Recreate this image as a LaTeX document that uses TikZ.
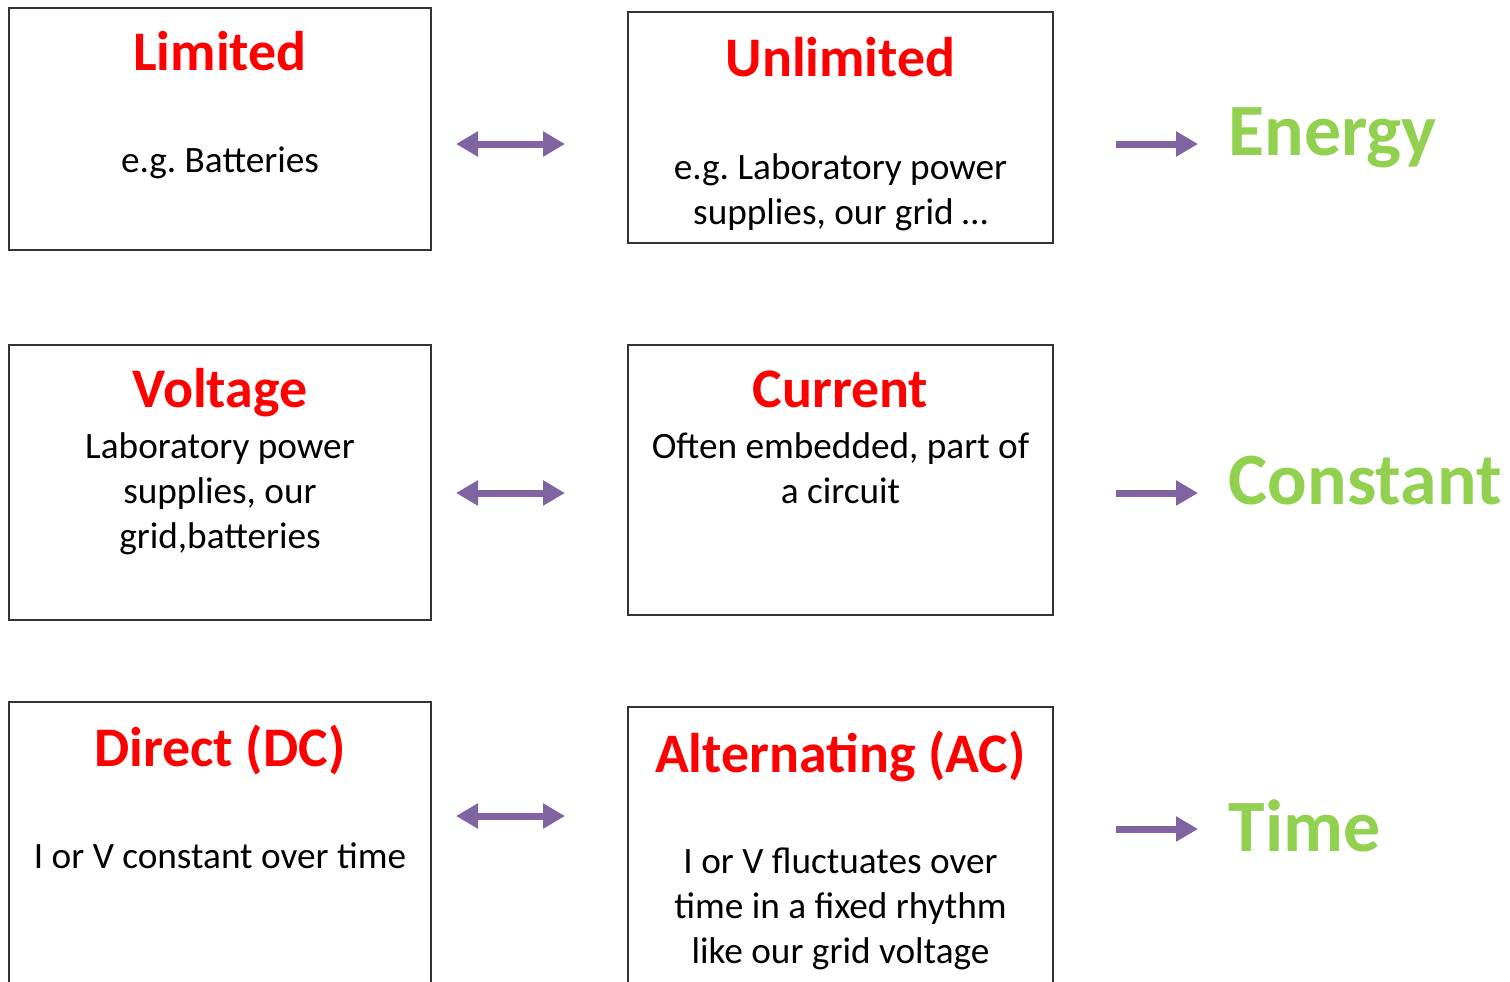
\documentclass[tikz,border=0pt]{standalone}
\usepackage{fontspec}
\setmainfont{Carlito}
\usetikzlibrary{arrows.meta,positioning}
\frenchspacing

\definecolor{arrowpurple}{HTML}{8064A2}
\definecolor{termgreen}{HTML}{92D050}

\begin{document}
\begin{tikzpicture}[
  kindbox/.style={draw=black!80,line width=0.6pt,minimum width=4.22cm,inner sep=0pt},
  kindtitle/.style={anchor=base,text=red,font=\fontsize{15.9}{19}\selectfont\bfseries,inner sep=0pt},
  kindtext/.style={anchor=base,align=center,font=\fontsize{10.6}{12.8}\selectfont,inner sep=0pt},
  quantity/.style={anchor=base west,text=termgreen,font=\fontsize{21}{25}\selectfont\bfseries,inner sep=0pt},
  pairarrow/.style={{Triangle[length=0.22cm,width=0.24cm]}-{Triangle[length=0.22cm,width=0.24cm]},arrowpurple,line width=0.07cm},
  leadarrow/.style={-{Triangle[length=0.22cm,width=0.24cm]},arrowpurple,line width=0.07cm,shorten >=0.30cm}
]
\clip (0,0) rectangle (15.10,-9.81);
\useasboundingbox (0,0) rectangle (15.10,-9.81);

% row 1: energy
\node[kindbox,minimum height=2.42cm] (lim) at (2.20,-1.29) {};
\node[kindtitle] (limt) at ([yshift=-0.64cm]lim.north) {Limited};
\node[kindtext] (limx) at ([yshift=-1.66cm]lim.north) {e.g. Batteries};
\node[kindbox,minimum width=4.25cm,minimum height=2.31cm] (unl) at (8.405,-1.275) {};
\node[kindtitle] (unlt) at ([yshift=-0.66cm]unl.north) {Unlimited};
\node[kindtext] (unlx) at ([yshift=-2.14cm]unl.north) {e.g. Laboratory power\\supplies, our grid \dots};
\coordinate (e1) at (4.56,-1.44);
\coordinate (e2) at (5.65,-1.44);
\draw[pairarrow] (e1) -- (e2);
\node[quantity] (energy) at (12.28,-1.55) {Energy};
\coordinate (e3) at (11.16,-1.44);
\draw[leadarrow] (e3) -- (e3 -| energy.west);

% row 2: constant
\node[kindbox,minimum height=2.75cm] (vol) at (2.20,-4.825) {};
\node[kindtitle] (volt) at ([yshift=-0.64cm]vol.north) {Voltage};
\node[kindtext] (volx) at ([yshift=-2.05cm]vol.north) {Laboratory power\\supplies, our\\grid,batteries};
\node[kindbox,minimum width=4.25cm,minimum height=2.70cm] (cur) at (8.405,-4.80) {};
\node[kindtitle] (curt) at ([yshift=-0.64cm]cur.north) {Current};
\node[kindtext] (curx) at ([yshift=-1.60cm]cur.north) {Often embedded, part of\\a circuit};
\coordinate (c1) at (4.56,-4.93);
\coordinate (c2) at (5.65,-4.93);
\draw[pairarrow] (c1) -- (c2);
\node[quantity] (constant) at (12.28,-5.04) {Constant};
\coordinate (c3) at (11.16,-4.93);
\draw[leadarrow] (c3) -- (c3 -| constant.west);

% row 3: time
\node[kindbox,minimum height=3.18cm] (dir) at (2.20,-8.61) {};
\node[kindtitle] (dirt) at ([yshift=-0.66cm]dir.north) {Direct (DC)};
\node[kindtext] (dirx) at ([yshift=-1.68cm]dir.north) {I or V constant over time};
\node[kindbox,minimum width=4.25cm,minimum height=3.13cm] (alt) at (8.405,-8.635) {};
\node[kindtitle] (altt) at ([yshift=-0.67cm]alt.north) {Alternating (AC)};
\node[kindtext] (altx) at ([yshift=-2.58cm]alt.north) {I or V fluctuates over\\time in a fixed rhythm\\like our grid voltage};
\coordinate (t1) at (4.56,-8.16);
\coordinate (t2) at (5.65,-8.16);
\draw[pairarrow] (t1) -- (t2);
\node[quantity] (time) at (12.28,-8.51) {Time};
\coordinate (t3) at (11.16,-8.29);
\draw[leadarrow] (t3) -- (t3 -| time.west);
\end{tikzpicture}
\end{document}
